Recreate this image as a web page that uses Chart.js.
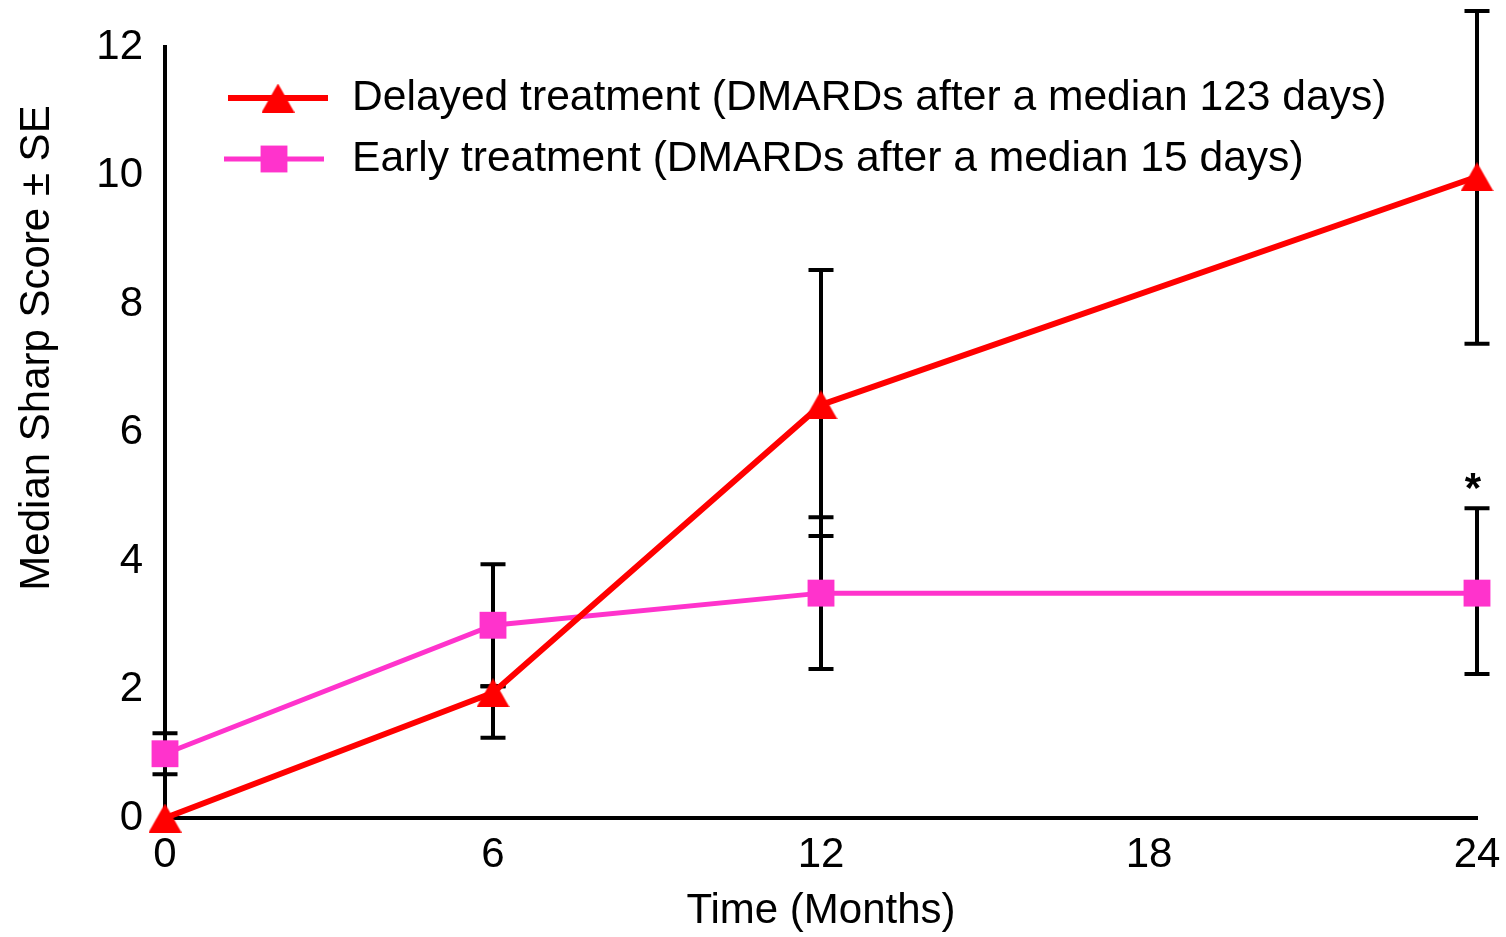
<!DOCTYPE html>
<html>
<head>
<meta charset="utf-8">
<script src="https://cdn.jsdelivr.net/npm/chart.js@4.4.0/dist/chart.umd.min.js"></script>
<style>
  html, body { margin: 0; padding: 0; background: #fff; }
  #wrap { width: 1506px; height: 937px; }
</style>
</head>
<body>
<div id="wrap"><canvas id="cv" width="1506" height="937"></canvas></div>
<script>
// data
var months = [0, 6, 12, 24];
var delayed = [0, 1.95, 6.43, 9.98];
var delayedLo = [0, 0.7, 2.04, 2.6];
var delayedHi = [0, 0.1, 2.1, 2.58];
var early = [1.0, 3.0, 3.5, 3.5];
var earlyLo = [0.32, 0.95, 1.18, 1.26];
var earlyHi = [0.32, 0.95, 1.18, 1.32];
var xTicks = [0, 6, 12, 18, 24];
var yTicks = [0, 2, 4, 6, 8, 10, 12];
var labelDelayed = 'Delayed treatment (DMARDs after a median 123 days)';
var labelEarly = 'Early treatment (DMARDs after a median 15 days)';
var yTitle = 'Median Sharp Score \u00b1 SE';
var starMark = { month: 24, text: '*' };

var FONT = '"Liberation Sans", Arial, sans-serif';
var RED = '#ff0000';
var PINK = '#ff33cc';

function pts(xs, ys) {
    var out = [];
    for (var i = 0; i < xs.length; i++) out.push({ x: xs[i], y: ys[i] });
    return out;
}

// triangle marker centred on its bounding box (as in the original figure)
function makeTriangle(w, h, color) {
    var c = document.createElement('canvas');
    c.width = w; c.height = h;
    var g = c.getContext('2d');
    g.fillStyle = color;
    g.beginPath();
    g.moveTo(w / 2, 0);
    g.lineTo(w, h);
    g.lineTo(0, h);
    g.closePath();
    g.fill();
    return c;
}
var triImg = makeTriangle(33, 29, RED);

// black error bars, drawn under the lines
var errorBars = {
    id: 'errorBars',
    beforeDatasetsDraw: function (chart) {
        var ctx = chart.ctx;
        var xs = chart.scales.x, ys = chart.scales.y;
        var sets = [[delayed, delayedLo, delayedHi], [early, earlyLo, earlyHi]];
        ctx.save();
        ctx.strokeStyle = '#000';
        ctx.lineWidth = 4;
        sets.forEach(function (s) {
            for (var i = 0; i < months.length; i++) {
                if (!s[1][i] && !s[2][i]) continue;
                var px = xs.getPixelForValue(months[i]);
                var top = ys.getPixelForValue(s[0][i] + s[2][i]);
                var bot = ys.getPixelForValue(s[0][i] - s[1][i]);
                ctx.beginPath();
                ctx.moveTo(px, top); ctx.lineTo(px, bot);
                ctx.moveTo(px - 12.5, top); ctx.lineTo(px + 12.5, top);
                ctx.moveTo(px - 12.5, bot); ctx.lineTo(px + 12.5, bot);
                ctx.stroke();
            }
        });
        // significance star above early-treatment bar
        var idx = months.indexOf(starMark.month);
        var sx = xs.getPixelForValue(starMark.month);
        var sy = ys.getPixelForValue(early[idx] + earlyHi[idx]);
        ctx.fillStyle = '#000';
        ctx.font = 'bold 42px ' + FONT;
        ctx.textAlign = 'center';
        ctx.textBaseline = 'middle';
        ctx.fillText(starMark.text, sx - 4, sy - 18);
        ctx.restore();
    }
};

// legend inside the plot and the y title
var legendBox = {
    id: 'legendBox',
    afterDraw: function (chart) {
        var ctx = chart.ctx;
        var items = [
            { text: labelDelayed, color: RED, width: 6, style: triImg, y: 98, x0: 228 },
            { text: labelEarly, color: PINK, width: 5, style: 'rect', y: 159, x0: 224 }
        ];
        ctx.save();
        items.forEach(function (it) {
            ctx.strokeStyle = it.color;
            ctx.lineWidth = it.width;
            ctx.beginPath();
            ctx.moveTo(it.x0, it.y); ctx.lineTo(it.x0 + 100, it.y);
            ctx.stroke();
            ctx.fillStyle = it.color;
            Chart.helpers.drawPoint(ctx, { pointStyle: it.style, radius: 19, borderWidth: 0, rotation: 0 }, it.x0 + 50, it.y);
            ctx.fillStyle = '#000';
            ctx.font = '42.6px ' + FONT;
            ctx.textAlign = 'left';
            ctx.textBaseline = 'middle';
            ctx.fillText(it.text, 352, it.y);
        });
        ctx.translate(37, 348);
        ctx.rotate(-Math.PI / 2);
        ctx.textAlign = 'center';
        ctx.font = '42px ' + FONT;
        ctx.fillText(yTitle, 0, 0);
        ctx.restore();
    }
};

var ctx = document.getElementById('cv').getContext('2d');
var myChart = new Chart(ctx, {
    type: 'line',
    data: {
        datasets: [{
            label: labelDelayed,
            data: pts(months, delayed),
            borderColor: RED,
            backgroundColor: RED,
            borderWidth: 6,
            pointStyle: triImg,
            pointRadius: 19,
            pointHoverRadius: 19,
            pointBorderWidth: 0,
            clip: false
        }, {
            label: labelEarly,
            data: pts(months, early),
            borderColor: PINK,
            backgroundColor: PINK,
            borderWidth: 5,
            pointStyle: 'rect',
            pointRadius: 19,
            pointHoverRadius: 19,
            pointBorderWidth: 0,
            clip: false
        }]
    },
    options: {
        responsive: false,
        animation: false,
        events: [],
        layout: { padding: { top: 47, right: 29, left: 0, bottom: 0 } },
        plugins: {
            legend: { display: false },
            tooltip: { enabled: false }
        },
        scales: {
            x: {
                type: 'linear',
                min: 0, max: 24,
                afterBuildTicks: function (s) { s.ticks = xTicks.map(function (v) { return { value: v }; }); },
                afterFit: function (s) { s.height = 119; s.paddingLeft = 0; s.paddingRight = 0; },
                grid: { display: false, drawTicks: false },
                border: { display: true, color: '#000', width: 4 },
                ticks: { color: '#000', font: { family: FONT, size: 42 }, padding: 12, maxRotation: 0 },
                title: {
                    display: true, text: 'Time (Months)', color: '#000',
                    font: { family: FONT, size: 42, lineHeight: 1.2 },
                    padding: { top: 0, bottom: 0 }
                }
            },
            y: {
                min: 0, max: 12,
                afterBuildTicks: function (s) { s.ticks = yTicks.map(function (v) { return { value: v }; }); },
                afterFit: function (s) { s.width = 165; s.paddingTop = 0; s.paddingBottom = 0; },
                grid: { display: false, drawTicks: false },
                border: { display: true, color: '#000', width: 4 },
                ticks: { color: '#000', font: { family: FONT, size: 42 }, padding: 22 },
                title: { display: false }
            }
        }
    },
    plugins: [errorBars, legendBox]
});
</script>
</body>
</html>
